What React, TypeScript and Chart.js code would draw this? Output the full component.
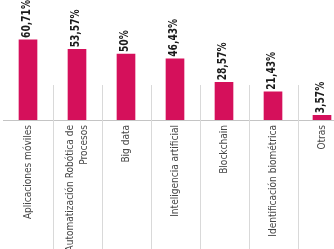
import React, { useEffect, useRef } from "react";
import { Chart, registerables } from "chart.js";
Chart.register(...registerables);

const categories: string[][] = [
  ["Aplicaciones móviles"],
  ["Automatización Robótica de", "Procesos"],
  ["Big data"],
  ["Inteligencia artificial"],
  ["Blockchain"],
  ["Identificación biométrica"],
  ["Otras"],
];
const values = [60.71, 53.57, 50, 46.43, 28.57, 21.43, 3.57];
const valueLabels = ["60,71%", "53,57%", "50%", "46,43%", "28,57%", "21,43%", "3,57%"];

const FONT = "'DejaVu Sans', sans-serif";

const separatorPlugin = {
  id: "separators",
  beforeDatasetsDraw(chart: any) {
    const { ctx } = chart;
    const xs = chart.scales.x;
    const ys = chart.scales.y;
    const top = ys.getPixelForValue(26.5);
    ctx.save();
    ctx.strokeStyle = "#d9d9d9";
    ctx.lineWidth = 1;
    for (let i = 0; i < categories.length - 1; i++) {
      const x = Math.round((xs.getPixelForValue(i) + xs.getPixelForValue(i + 1)) / 2) + 0.5;
      ctx.beginPath();
      ctx.moveTo(x, top);
      ctx.lineTo(x, chart.height);
      ctx.stroke();
    }
    ctx.restore();
  },
};

const categoryLabelPlugin = {
  id: "categoryLabels",
  afterDraw(chart: any) {
    const { ctx } = chart;
    const xs = chart.scales.x;
    const yTop = chart.chartArea.bottom + 5;
    const lh = 14;
    ctx.save();
    ctx.fillStyle = "#474747";
    ctx.font = `11px ${FONT}`;
    ctx.textAlign = "right";
    ctx.textBaseline = "middle";
    categories.forEach((lines, i) => {
      const cx = xs.getPixelForValue(i);
      lines.forEach((line, j) => {
        const off = (j - (lines.length - 1) / 2) * lh;
        ctx.save();
        ctx.translate(cx + off, yTop);
        ctx.rotate(-Math.PI / 2);
        ctx.scale(0.82, 1);
        ctx.fillText(line, 0, 0);
        ctx.restore();
      });
    });
    ctx.restore();
  },
};

const valueLabelPlugin = {
  id: "valueLabels",
  afterDatasetsDraw(chart: any) {
    const { ctx } = chart;
    const meta = chart.getDatasetMeta(0);
    ctx.save();
    ctx.fillStyle = "#1a1a1a";
    ctx.font = `bold 12px ${FONT}`;
    ctx.textAlign = "left";
    ctx.textBaseline = "middle";
    meta.data.forEach((bar: any, i: number) => {
      ctx.save();
      ctx.translate(bar.x - 1, bar.y - 2);
      ctx.rotate(-Math.PI / 2);
      ctx.scale(0.76, 1);
      ctx.fillText(valueLabels[i], 0, 0);
      ctx.restore();
    });
    ctx.restore();
  },
};

export default function App() {
  const ref = useRef<HTMLCanvasElement>(null);
  useEffect(() => {
    if (!ref.current) return;
    const chart = new Chart(ref.current, {
      type: "bar",
      data: {
        labels: categories,
        datasets: [
          {
            data: values,
            backgroundColor: "#d5105b",
            borderWidth: 0,
            barThickness: 18,
          },
        ],
      },
      options: {
        responsive: false,
        animation: false,
        layout: { padding: { left: 3.5, right: 3.5, top: 0, bottom: 0 } },
        plugins: { legend: { display: false }, tooltip: { enabled: false } },
        scales: {
          x: {
            grid: { display: true, drawOnChartArea: false, drawTicks: false, color: "transparent" },
            border: { display: true, color: "#c4c4c4", width: 1 },
            ticks: { display: false },
            afterFit(scale: any) {
              scale.height = 129;
            },
          },
          y: {
            display: false,
            min: 0,
            max: 91,
          },
        },
      },
      plugins: [separatorPlugin, valueLabelPlugin, categoryLabelPlugin],
    });
    return () => chart.destroy();
  }, []);
  return (
    <div style={{ position: "fixed", left: 0, top: 0, width: 334, height: 249, overflow: "hidden", background: "#fff" }}>
      <canvas ref={ref} width={350} height={249} style={{ display: "block" }} />
    </div>
  );
}
